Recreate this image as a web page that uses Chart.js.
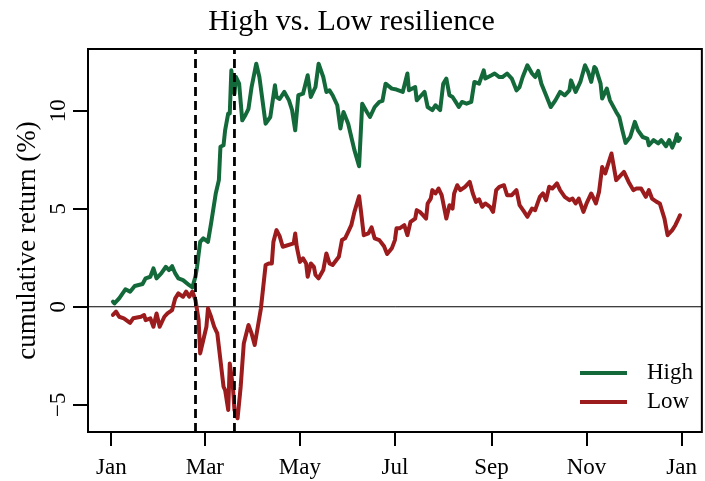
<!DOCTYPE html>
<html lang="en">
  <head>
    <meta charset="UTF-8" />
    <title>High vs. Low resilience</title>
    <script src="https://cdn.jsdelivr.net/npm/chart.js"></script>
    <style>
      body { margin: 0; background: #fff; }
    </style>
  </head>
  <body>
    <canvas id="chart" width="705" height="481"></canvas>
    <script>
      // days counted from Jan 1 (2020, leap year)
      const monthTicks = [0, 60, 121, 182, 244, 305, 366];
      const monthLabels = ["Jan", "Mar", "May", "Jul", "Sep", "Nov", "Jan"];
      const yTicks = [-5, 0, 5, 10];
      const eventDays = [54, 79];

      const highDays = [1, 2, 5, 9, 12, 15, 20, 22, 25, 27, 29, 32, 35, 37, 39, 41, 43, 46, 50, 52, 54, 55, 57, 59, 62, 64, 67, 69, 70, 72, 73, 75, 76, 77, 78, 79, 80, 82, 84, 86, 88, 90, 93, 95, 99, 102, 105, 106, 108, 111, 114, 116, 118, 120, 123, 126, 128, 131, 133, 136, 138, 140, 142, 145, 147, 149, 152, 154, 156, 159, 161, 164, 166, 169, 172, 174, 176, 180, 183, 187, 190, 191, 195, 196, 199, 201, 203, 206, 208, 211, 213, 215, 217, 219, 221, 223, 225, 228, 231, 233, 236, 239, 240, 244, 246, 249, 251, 254, 257, 260, 262, 264, 267, 270, 272, 274, 276, 279, 282, 285, 288, 291, 294, 295, 298, 301, 304, 306, 308, 310, 311, 314, 315, 318, 320, 324, 326, 328, 330, 333, 336, 338, 341, 344, 345, 348, 351, 353, 356, 358, 360, 362, 363, 364, 365];
      const highVals = [0.26, 0.17, 0.43, 0.89, 0.77, 1.06, 1.16, 1.45, 1.53, 1.96, 1.45, 1.7, 2.04, 1.87, 2.07, 1.7, 1.45, 1.36, 1.1, 0.99, 1.55, 2.04, 3.31, 3.49, 3.31, 4.25, 5.78, 6.46, 8.16, 8.24, 9.0, 9.86, 9.86, 12.06, 11.38, 10.87, 11.72, 11.38, 9.51, 9.77, 10.1, 11.21, 12.4, 11.72, 9.34, 9.68, 11.3, 10.7, 10.6, 10.96, 10.53, 10.03, 9.0, 10.79, 10.87, 11.81, 10.7, 11.21, 12.4, 11.72, 10.96, 11.04, 10.79, 10.28, 9.09, 9.94, 9.34, 8.66, 7.99, 7.17, 10.36, 9.94, 9.68, 10.19, 10.45, 10.5, 11.38, 11.13, 11.08, 10.96, 11.9, 11.04, 11.21, 10.53, 10.79, 10.96, 10.19, 10.03, 10.28, 10.03, 11.38, 11.64, 10.79, 10.7, 10.45, 10.19, 10.45, 10.36, 10.45, 11.47, 11.38, 12.06, 11.64, 11.81, 11.9, 11.72, 11.72, 11.9, 11.64, 11.04, 11.21, 11.72, 12.32, 11.9, 11.72, 12.03, 11.38, 10.79, 10.19, 10.53, 10.96, 10.79, 11.04, 11.55, 10.96, 11.47, 12.32, 11.98, 11.47, 12.23, 12.15, 11.38, 10.62, 11.13, 10.53, 9.94, 9.68, 9.0, 8.36, 8.66, 9.43, 9.0, 8.66, 8.58, 8.24, 8.5, 8.33, 8.5, 8.19, 8.5, 8.12, 8.5, 8.8, 8.46, 8.6];

      const lowDays = [1, 3, 5, 8, 12, 14, 19, 21, 22, 25, 27, 29, 31, 34, 36, 39, 41, 43, 46, 48, 50, 52, 54, 56, 57, 59, 61, 62, 64, 66, 68, 70, 72, 73, 75, 76, 78, 79, 81, 83, 85, 88, 90, 92, 94, 96, 99, 101, 103, 104, 106, 108, 110, 117, 118, 119, 121, 123, 125, 126, 128, 130, 131, 133, 136, 138, 140, 142, 146, 148, 150, 152, 154, 156, 159, 160, 162, 165, 167, 169, 172, 175, 177, 180, 182, 183, 185, 188, 190, 192, 195, 196, 198, 200, 202, 203, 205, 206, 208, 210, 212, 215, 217, 219, 220, 222, 224, 227, 230, 232, 234, 236, 238, 240, 243, 245, 247, 249, 252, 254, 257, 260, 262, 265, 267, 270, 272, 275, 277, 279, 281, 283, 286, 288, 291, 294, 296, 298, 300, 303, 305, 308, 311, 313, 315, 317, 319, 321, 324, 326, 329, 332, 335, 337, 340, 343, 345, 347, 350, 352, 355, 357, 360, 362, 364, 365];
      const lowVals = [-0.42, -0.25, -0.51, -0.59, -0.82, -0.59, -0.51, -0.42, -0.68, -0.59, -1.02, -0.34, -1.02, -0.51, -0.34, -0.17, 0.43, 0.68, 0.51, 0.77, 0.51, 0.77, 0.34, -0.68, -2.38, -1.7, -1.02, -0.08, -0.51, -1.02, -1.36, -2.72, -4.08, -4.25, -5.27, -2.89, -4.08, -5.27, -5.69, -4.08, -1.87, -0.93, -1.36, -1.95, -1.02, -0.08, 2.13, 2.21, 2.21, 3.31, 3.91, 3.6, 3.06, 3.23, 3.74, 3.06, 2.29, 2.47, 2.21, 1.53, 2.21, 2.04, 1.62, 1.45, 1.87, 2.72, 2.21, 2.13, 2.55, 3.4, 3.49, 3.82, 4.16, 4.84, 5.64, 5.01, 3.65, 3.74, 4.05, 3.49, 3.4, 3.09, 2.69, 2.98, 3.4, 4.0, 4.0, 4.16, 3.65, 4.33, 4.5, 4.93, 4.84, 4.67, 4.5, 5.27, 5.52, 5.95, 5.78, 6.03, 5.69, 4.5, 5.18, 5.01, 5.78, 6.2, 5.95, 6.12, 6.37, 5.78, 5.35, 5.48, 5.1, 5.27, 5.1, 4.84, 5.95, 6.12, 6.2, 5.69, 5.69, 5.95, 5.18, 4.84, 4.59, 5.01, 4.93, 5.61, 5.78, 5.44, 6.12, 6.03, 6.29, 5.95, 5.61, 5.44, 5.52, 5.27, 5.52, 4.84, 5.27, 5.78, 5.27, 5.86, 7.13, 6.8, 7.31, 7.82, 6.46, 6.63, 6.88, 6.37, 5.95, 6.03, 6.03, 5.61, 5.95, 5.52, 5.35, 5.27, 4.5, 3.65, 3.91, 4.16, 4.5, 4.67];

      const GREEN = "#13693a";
      const RED = "#9c1b1d";
      const FONT = "'Liberation Serif', 'Times New Roman', serif";
      const X_MIN = -15, X_MAX = 379;
      const Y_MIN = -6.39, Y_MAX = 13.15;

      const toPoints = (xs, ys) => xs.map((x, i) => ({ x: x, y: ys[i] }));

      const datasets = [
        ...eventDays.map((d) => ({
          label: "event",
          data: [{ x: d, y: Y_MIN }, { x: d, y: Y_MAX }],
          borderColor: "#000",
          borderWidth: 2.8,
          borderDash: [9, 5],
          borderCapStyle: "butt",
          order: 0,
        })),
        {
          label: "High",
          data: toPoints(highDays, highVals),
          borderColor: GREEN,
          borderWidth: 4,
          order: 1,
        },
        {
          label: "Low",
          data: toPoints(lowDays, lowVals),
          borderColor: RED,
          borderWidth: 4,
          order: 2,
        },
        {
          label: "zero",
          data: [{ x: X_MIN, y: 0 }, { x: X_MAX, y: 0 }],
          borderColor: "#000",
          borderWidth: 1,
          order: 3,
        },
      ];

      // R-style box, rotated y labels and in-plot legend
      const rStyle = {
        id: "rStyle",
        afterDraw(chart) {
          const ctx = chart.ctx;
          const a = chart.chartArea;
          ctx.save();
          ctx.strokeStyle = "#000";
          ctx.lineWidth = 2;
          ctx.strokeRect(a.left, a.top, a.right - a.left, a.bottom - a.top);

          const ys = chart.scales.y;
          ctx.fillStyle = "#000";
          ctx.font = "23px " + FONT;
          ctx.textAlign = "center";
          ctx.textBaseline = "middle";
          yTicks.forEach((v) => {
            ctx.save();
            ctx.translate(59, ys.getPixelForValue(v));
            ctx.rotate(-Math.PI / 2);
            ctx.fillText(v < 0 ? "\u2212" + Math.abs(v) : String(v), 0, 0);
            ctx.restore();
          });

          [["High", GREEN, 373], ["Low", RED, 402]].forEach(([t, c, y]) => {
            ctx.strokeStyle = c;
            ctx.lineWidth = 4;
            ctx.beginPath();
            ctx.moveTo(580, y);
            ctx.lineTo(627, y);
            ctx.stroke();
            ctx.textAlign = "left";
            ctx.fillText(t, 647, y);
          });
          ctx.restore();
        },
      };

      const config = {
        type: "line",
        data: { datasets: datasets },
        plugins: [rStyle],
        options: {
          responsive: false,
          animation: false,
          layout: { padding: { right: 2, left: 0, top: 0, bottom: 0 } },
          elements: {
            point: { radius: 0 },
            line: { tension: 0, borderJoinStyle: "round", borderCapStyle: "round" },
          },
          plugins: {
            legend: { display: false },
            tooltip: { enabled: false },
            title: {
              display: true,
              text: "High vs. Low resilience",
              color: "#000",
              font: { family: FONT, size: 30, weight: "normal" },
              padding: { top: 4, bottom: 9 },
            },
          },
          scales: {
            x: {
              type: "linear",
              min: X_MIN,
              max: X_MAX,
              afterBuildTicks: (s) => { s.ticks = monthTicks.map((v) => ({ value: v })); },
              afterFit: (s) => { s.height = 49; },
              ticks: {
                color: "#000",
                font: { family: FONT, size: 23 },
                padding: 8,
                maxRotation: 0,
                autoSkip: false,
                callback: (v, i) => monthLabels[i],
              },
              grid: { drawOnChartArea: false, color: "#000", lineWidth: 2, tickLength: 14 },
              border: { display: false },
            },
            y: {
              type: "linear",
              min: Y_MIN,
              max: Y_MAX,
              afterBuildTicks: (s) => { s.ticks = yTicks.map((v) => ({ value: v })); },
              afterFit: (s) => { s.width = 88; },
              ticks: { display: false },
              grid: { drawOnChartArea: false, color: "#000", lineWidth: 2, tickLength: 15 },
              border: { display: false },
              title: {
                display: true,
                text: "cumulative return (%)",
                color: "#000",
                font: { family: FONT, size: 27 },
                padding: { top: 12, bottom: 0 },
              },
            },
          },
        },
      };

      const chart = new Chart(document.getElementById("chart"), config);
    </script>
  </body>
</html>
